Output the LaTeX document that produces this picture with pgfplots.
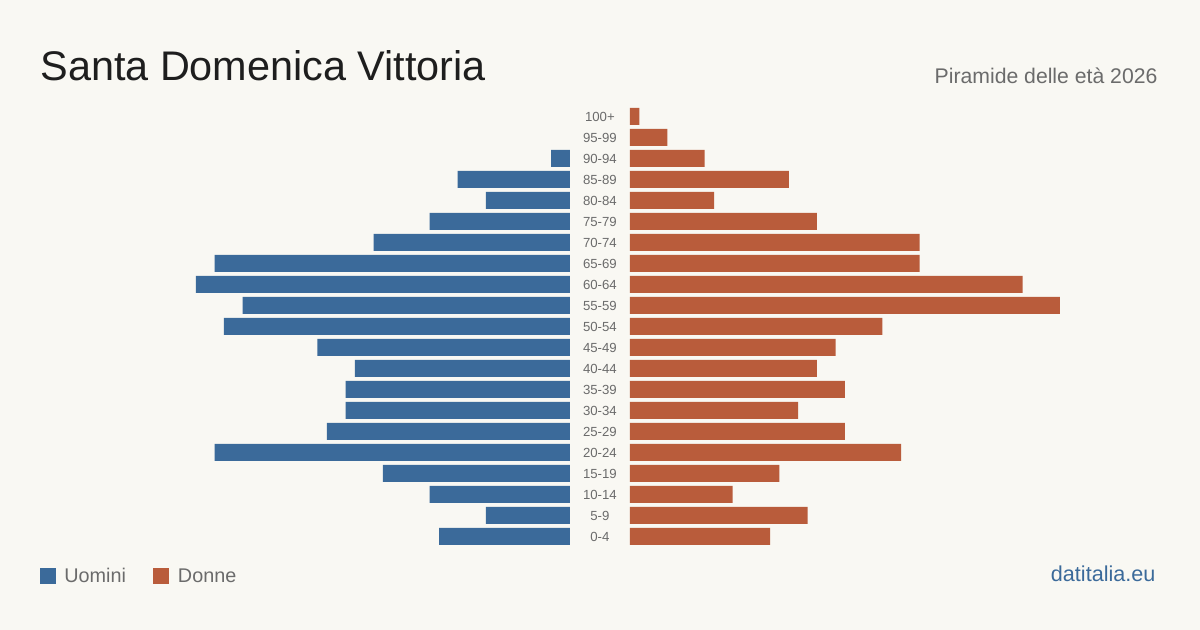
\documentclass[border=0pt]{standalone}
\usepackage{pgfplots}
\usepackage{pgfplotstable}
\pgfplotsset{compat=1.18}
\usepackage{fontspec}
\setmainfont{Liberation Sans}
\definecolor{bg}{HTML}{F9F8F3}
\definecolor{men}{HTML}{3B6A9A}
\definecolor{women}{HTML}{B95C3B}
\definecolor{titlec}{HTML}{1E1E1E}
\definecolor{grayt}{HTML}{6B6B6B}
\pgfplotstableread{
idx label m f
0 0-4 14 15
1 5-9 9 19
2 10-14 15 11
3 15-19 20 16
4 20-24 38 29
5 25-29 26 23
6 30-34 24 18
7 35-39 24 23
8 40-44 23 20
9 45-49 27 22
10 50-54 37 27
11 55-59 35 46
12 60-64 40 42
13 65-69 38 31
14 70-74 21 31
15 75-79 15 20
16 80-84 9 9
17 85-89 12 17
18 90-94 2 8
19 95-99 nan 4
20 100+ nan 1
}\data
\pgfplotsset{
  pyr/.style={
    scale only axis, width=285pt, height=220.5pt,
    xmin=0, xmax=60.96, ymin=-0.5, ymax=20.5,
    axis line style={draw=none}, xtick=\empty,
    major tick length=0pt, clip=false,
    xbar, bar width=8.5pt, unbounded coords=discard,
  }
}
\begin{document}
\begin{tikzpicture}
\fill[bg] (0,0) rectangle (600pt,315pt);
\begin{axis}[pyr, at={(0pt,41.5pt)}, anchor=south west, x dir=reverse, ytick=\empty]
\addplot[fill=men, draw=none] table[x=m, y=idx] {\data};
\end{axis}
\begin{axis}[pyr, at={(315pt,41.5pt)}, anchor=south west,
  ytick={0,...,20}, yticklabels from table={\data}{label},
  yticklabel style={anchor=center, xshift=-15pt, yshift=-0.4pt, inner sep=0pt, font=\fontsize{6.6pt}{7pt}\selectfont, text=grayt}]
\addplot[fill=women, draw=none] table[x=f, y=idx] {\data};
\end{axis}
\node[anchor=base west, inner sep=0pt, text=titlec, font=\fontsize{20.7pt}{24pt}\selectfont] at (20pt,274.5pt) {Santa Domenica Vittoria};
\node[anchor=base east, inner sep=0pt, text=grayt, font=\fontsize{10.6pt}{12pt}\selectfont] at (579pt,273pt) {Piramide delle età 2026};
\fill[men] (20pt,23pt) rectangle (28pt,31pt);
\node[anchor=base west, inner sep=0pt, text=grayt, font=\fontsize{9.9pt}{11pt}\selectfont] at (32pt,23.5pt) {Uomini};
\fill[women] (76.5pt,23pt) rectangle (84.5pt,31pt);
\node[anchor=base west, inner sep=0pt, text=grayt, font=\fontsize{9.9pt}{11pt}\selectfont] at (88.8pt,23.5pt) {Donne};
\node[anchor=base east, inner sep=0pt, text=men, font=\fontsize{10.8pt}{12pt}\selectfont] at (578pt,24pt) {datitalia.eu};
\end{tikzpicture}
\end{document}
